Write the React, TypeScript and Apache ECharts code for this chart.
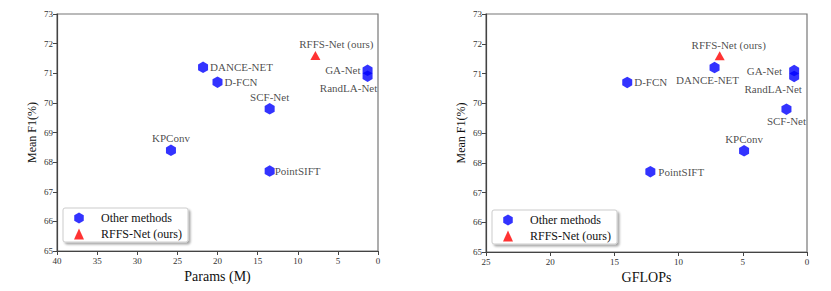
import React, { useEffect, useRef } from "react";
import * as echarts from "echarts";

// ---- data ----
const methods = ["DANCE-NET", "D-FCN", "SCF-Net", "KPConv", "PointSIFT", "GA-Net", "RandLA-Net"];
const paramsM = [21.8, 20.0, 13.5, 25.8, 13.5, 1.3, 1.3];
const gflops = [7.2, 14.0, 1.6, 4.9, 12.2, 1.0, 1.0];
const meanF1 = [71.2, 70.7, 69.8, 68.4, 67.7, 71.1, 70.9];

const oursName = "RFFS-Net (ours)";
const oursParams = 7.8;
const oursGflops = 6.8;
const oursF1 = 71.6;

const paramsTicks = { min: 0, max: 40, interval: 5 };
const gflopsTicks = { min: 0, max: 25, interval: 5 };
const f1Ticks = { min: 65, max: 73, interval: 1 };

const legendOther = "Other methods";

// ---- label layout (style only) ----
type LP = { position: string; distance?: number; offset?: [number, number] };
const leftLabels: Record<string, LP> = {
  "DANCE-NET": { position: "right", distance: 2 },
  "D-FCN": { position: "right", distance: 2 },
  "SCF-Net": { position: "top", distance: 1 },
  KPConv: { position: "top", distance: 1 },
  PointSIFT: { position: "right", distance: 0 },
  "GA-Net": { position: "left", distance: 2 },
  "RandLA-Net": { position: "bottom", distance: 1, offset: [-19, 0] },
  [oursName]: { position: "top", distance: 1, offset: [21, 0] },
};
const rightLabels: Record<string, LP> = {
  "DANCE-NET": { position: "bottom", distance: 1, offset: [-7, 0] },
  "D-FCN": { position: "right", distance: 2 },
  "SCF-Net": { position: "bottom", distance: 1 },
  KPConv: { position: "top", distance: 1 },
  PointSIFT: { position: "right", distance: 3 },
  "GA-Net": { position: "left", distance: 7 },
  "RandLA-Net": { position: "bottom", distance: 1, offset: [-21, 0] },
  [oursName]: { position: "top", distance: 1, offset: [9, 0] },
};

const FONT = "'Liberation Serif', 'DejaVu Serif', serif";
const HEX = "path://M0,-1 L0.866,-0.5 L0.866,0.5 L0,1 L-0.866,0.5 L-0.866,-0.5 Z";
const BLUE = "#0000ff";
const RED = "#ff0000";

function labelFor(lp: LP) {
  return {
    show: true,
    position: lp.position,
    distance: lp.distance ?? 2,
    offset: lp.offset ?? [0, 0],
    formatter: "{b}",
    fontFamily: FONT,
    fontSize: 11,
    color: "#1a1a1a",
  };
}

function otherData(xs: number[], layout: Record<string, LP>) {
  return methods.map((n, i) => ({ name: n, value: [xs[i], meanF1[i]], label: labelFor(layout[n]) }));
}

function xAxisFor(idx: number, name: string, t: { min: number; max: number; interval: number }) {
  return {
    gridIndex: idx,
    type: "value",
    inverse: true,
    min: t.min,
    max: t.max,
    interval: t.interval,
    name,
    nameLocation: "middle",
    nameGap: 18,
    nameTextStyle: { fontFamily: FONT, fontSize: 14, color: "#111" },
    axisLine: { show: true, onZero: false, lineStyle: { color: "#444", width: 1.2 } },
    axisTick: { show: true, length: 4, inside: false, lineStyle: { color: "#444" } },
    axisLabel: { fontFamily: FONT, fontSize: 9, color: "#333", margin: 5 },
    splitLine: { show: false },
  };
}

function yAxisFor(idx: number) {
  return {
    gridIndex: idx,
    type: "value",
    min: f1Ticks.min,
    max: f1Ticks.max,
    interval: f1Ticks.interval,
    name: "Mean F1(%)",
    nameLocation: "middle",
    nameRotate: 90,
    nameGap: 19,
    nameTextStyle: { fontFamily: FONT, fontSize: 12, color: "#111" },
    axisLine: { show: true, onZero: false, lineStyle: { color: "#444", width: 1.2 } },
    axisTick: { show: true, length: 4, inside: false, lineStyle: { color: "#444" } },
    axisLabel: { fontFamily: FONT, fontSize: 9, color: "#333", margin: 4 },
    splitLine: { show: false },
  };
}

function legendFor(left: number, top: number) {
  return {
    left,
    top,
    orient: "vertical",
    selectedMode: false,
    data: [
      { name: legendOther, icon: HEX },
      { name: oursName, icon: "triangle" },
    ],
    itemWidth: 10,
    itemHeight: 11,
    itemGap: 4,
    padding: [4, 6, 2, 11],
    backgroundColor: "#fff",
    borderColor: "#cccccc",
    borderWidth: 1,
    borderRadius: 2,
    shadowColor: "rgba(0,0,0,0.35)",
    shadowBlur: 2,
    shadowOffsetX: 2,
    shadowOffsetY: 2,
    textStyle: { fontFamily: FONT, fontSize: 12, color: "#111", padding: [0, 0, 0, 12] },
  };
}

export default function App() {
  const ref = useRef<HTMLDivElement>(null);
  useEffect(() => {
    if (!ref.current) return;
    const chart = echarts.init(ref.current, undefined, { renderer: "svg" });
    const option: any = {
      animation: false,
      backgroundColor: "#fff",
      grid: [
        { left: 57, top: 14, width: 321, height: 237, show: true, borderColor: "#777", borderWidth: 1.2, backgroundColor: "transparent" },
        { left: 486, top: 14, width: 321, height: 238, show: true, borderColor: "#777", borderWidth: 1.2, backgroundColor: "transparent" },
      ],
      xAxis: [xAxisFor(0, "Params (M)", paramsTicks), xAxisFor(1, "GFLOPs", gflopsTicks)],
      yAxis: [yAxisFor(0), yAxisFor(1)],
      legend: [legendFor(63, 208), legendFor(492, 210)],
      series: [
        {
          name: legendOther,
          type: "scatter",
          xAxisIndex: 0,
          yAxisIndex: 0,
          symbol: HEX,
          symbolSize: [10, 11.5],
          itemStyle: { color: BLUE },
          data: otherData(paramsM, leftLabels),
        },
        {
          name: oursName,
          type: "scatter",
          xAxisIndex: 0,
          yAxisIndex: 0,
          symbol: "triangle",
          symbolSize: [10, 9],
          itemStyle: { color: RED },
          data: [{ name: oursName, value: [oursParams, oursF1], label: labelFor(leftLabels[oursName]) }],
        },
        {
          name: legendOther,
          type: "scatter",
          xAxisIndex: 1,
          yAxisIndex: 1,
          symbol: HEX,
          symbolSize: [10, 11.5],
          itemStyle: { color: BLUE },
          data: otherData(gflops, rightLabels),
        },
        {
          name: oursName,
          type: "scatter",
          xAxisIndex: 1,
          yAxisIndex: 1,
          symbol: "triangle",
          symbolSize: [10, 9],
          itemStyle: { color: RED },
          data: [{ name: oursName, value: [oursGflops, oursF1], label: labelFor(rightLabels[oursName]) }],
        },
      ],
    };
    chart.setOption(option);
    return () => chart.dispose();
  }, []);
  return (
    <div
      ref={ref}
      style={{ position: "fixed", left: 0, top: 0, width: 831, height: 291, background: "#fff" }}
    />
  );
}
